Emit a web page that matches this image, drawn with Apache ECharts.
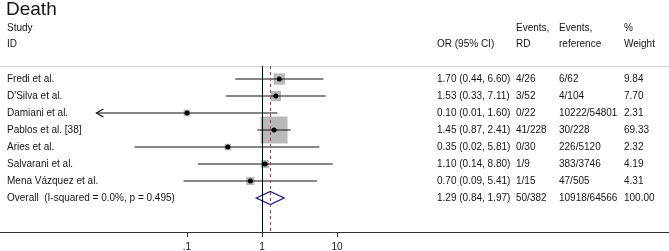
<!DOCTYPE html>
<html>
<head>
<meta charset="utf-8">
<script src="https://cdn.jsdelivr.net/npm/echarts@6/dist/echarts.min.js"></script>
<style>
  html, body { margin: 0; padding: 0; background: #fff; }
  #main { width: 669px; height: 251px; }
</style>
</head>
<body>
<div id="main"></div>
<script>
// study rows, top to bottom
const studies = ['Fredi et al.', "D'Silva et al.", 'Damiani et al.', 'Pablos et al. [38]', 'Aries et al.', 'Salvarani et al.', 'Mena Vázquez et al.']
const orVals = [1.70, 1.53, 0.10, 1.45, 0.35, 1.10, 0.70]
const ciLow = [0.44, 0.33, 0.0062, 0.87, 0.02, 0.14, 0.09]   // Damiani runs off the left, prints as 0.01
const ciHigh = [6.60, 7.11, 1.60, 2.41, 5.81, 8.80, 5.41]
const eventsRD = ['4/26', '3/52', '0/22', '41/228', '0/30', '1/9', '1/15']
const eventsRef = ['6/62', '4/104', '10222/54801', '30/228', '226/5120', '383/3746', '47/505']
const weights = [9.84, 7.70, 2.31, 69.33, 2.32, 4.19, 4.31]

// pooled estimate
const overallLabel = 'Overall  (I-squared = 0.0%, p = 0.495)'
const overallOR = 1.29
const overallLow = 0.84
const overallHigh = 1.97
const overallRD = '50/382'
const overallRef = '10918/64566'
const overallWeight = 100.00

// axis
const tickValues = [0.1, 1, 10]
const tickLabels = ['.1', '1', '10']

// header
const headTop = ['Study', '', 'Events,', 'Events,', '%']
const headBottom = ['ID', 'OR (95% CI)', 'RD', 'reference', 'Weight']

const FAMILY = '"Liberation Sans", Arial, sans-serif'
const FONT = '10px ' + FAMILY
const INK = '#151515'
const COLS = [7, 437, 516, 559, 624]   // left edge of each text column
const ARROW_BELOW = 0.01               // CIs past this get an arrow

const lg = v => Math.log10(v)
const ciText = (o, l, h) => `${o.toFixed(2)} (${l.toFixed(2)}, ${h.toFixed(2)})`

const chart = echarts.init(document.getElementById('main'), null, { renderer: 'canvas' })

// forest marks: [row, log or, log lo, log hi, weight]
const forestData = studies.map((s, i) => [i, lg(orVals[i]), lg(ciLow[i]), lg(ciHigh[i]), weights[i]])

// table rows: label + columns
const tableRows = studies.map((s, i) => [s, ciText(orVals[i], ciLow[i], ciHigh[i]), eventsRD[i], eventsRef[i], weights[i].toFixed(2)])
tableRows.push([overallLabel, ciText(overallOR, overallLow, overallHigh), overallRD, overallRef, overallWeight.toFixed(2)])

function renderStudy (params, api) {
  const row = api.value(0)
  const y = api.coord([0, row])[1]
  const xo = api.coord([api.value(1), row])[0]
  const xl = api.coord([api.value(2), row])[0]
  const xh = api.coord([api.value(3), row])[0]
  const side = 2 + 3 * Math.sqrt(api.value(4))
  const kids = [
    { type: 'rect', shape: { x: xo - side / 2, y: y - side / 2, width: side, height: side }, style: { fill: '#b9b9b9' } },
    { type: 'line', shape: { x1: xl, y1: y, x2: xh, y2: y }, style: { stroke: '#111', lineWidth: 1.2 } },
    { type: 'circle', shape: { cx: xo, cy: y, r: 2.5 }, style: { fill: '#000' } }
  ]
  if (Math.pow(10, api.value(2)) < ARROW_BELOW) {
    kids.push({ type: 'polyline', shape: { points: [[xl + 7, y - 4], [xl, y], [xl + 7, y + 4]] }, style: { stroke: '#111', lineWidth: 1.2, fill: null } })
  }
  return { type: 'group', children: kids }
}

function renderDiamond (params, api) {
  const row = api.value(0)
  const c = api.coord([api.value(1), row])
  const l = api.coord([api.value(2), row])[0]
  const h = api.coord([api.value(3), row])[0]
  const hh = 6.5
  return {
    type: 'polygon',
    shape: { points: [[l, c[1]], [c[0], c[1] - hh], [h, c[1]], [c[0], c[1] + hh]] },
    style: { stroke: '#1c1c8a', lineWidth: 1.3, fill: 'none' }
  }
}

function renderTable (params, api) {
  const row = api.value(1)
  const y = api.coord([0, row])[1]
  const cells = tableRows[params.dataIndex]
  return {
    type: 'group',
    children: cells.map((t, k) => ({
      type: 'text',
      style: { x: COLS[k], y: y, text: t, font: FONT, fill: INK, align: 'left', verticalAlign: 'middle' }
    }))
  }
}

const headerGraphics = [
  { type: 'text', x: 6, y: 10, style: { text: 'Death', font: '19px ' + FAMILY, fill: INK, verticalAlign: 'middle' } }
]
COLS.forEach((x, k) => {
  if (headTop[k]) headerGraphics.push({ type: 'text', x: x, y: 28, style: { text: headTop[k], font: FONT, fill: INK, verticalAlign: 'middle' } })
  headerGraphics.push({ type: 'text', x: x, y: 44, style: { text: headBottom[k], font: FONT, fill: INK, verticalAlign: 'middle' } })
})

const option = {
  animation: false,
  backgroundColor: '#fff',
  grid: { left: 0, right: 0, top: 66, bottom: 19, outerBoundsMode: 'none' },
  xAxis: [
    {
      type: 'value',
      min: -3.493,
      max: 5.427,
      position: 'bottom',
      axisLine: { onZero: false, lineStyle: { color: '#333', width: 1 } },
      axisTick: { customValues: tickValues.map(lg), length: 5, lineStyle: { color: '#333' } },
      axisLabel: {
        customValues: tickValues.map(lg),
        formatter: v => tickLabels[tickValues.findIndex(t => Math.abs(lg(t) - v) < 1e-6)],
        fontSize: 10,
        fontFamily: FAMILY,
        color: INK,
        margin: 10
      },
      splitLine: { show: false }
    },
    {
      type: 'value',
      min: -3.493,
      max: 5.427,
      position: 'top',
      axisLine: { onZero: false, lineStyle: { color: '#d0d0d0', width: 1 } },
      axisTick: { show: false },
      axisLabel: { show: false },
      splitLine: { show: false }
    }
  ],
  yAxis: { type: 'value', inverse: true, min: -0.765, max: 9.0, show: false },
  graphic: headerGraphics,
  series: [
    {
      // reference lines: no effect (1) and pooled estimate
      type: 'scatter',
      data: [],
      z: 1,
      markLine: {
        silent: true,
        symbol: 'none',
        label: { show: false },
        animation: false,
        data: [
          { xAxis: 0, lineStyle: { color: '#000', type: 'solid', width: 1 } },
          { xAxis: lg(overallOR), lineStyle: { color: '#c8303a', type: [3, 3], width: 1 } }
        ]
      }
    },
    {
      type: 'custom',
      z: 3,
      renderItem: renderStudy,
      encode: { x: [1, 2, 3], y: 0 },
      data: forestData
    },
    {
      type: 'custom',
      z: 3,
      renderItem: renderDiamond,
      encode: { x: [1, 2, 3], y: 0 },
      data: [[studies.length, lg(overallOR), lg(overallLow), lg(overallHigh)]]
    },
    {
      type: 'custom',
      z: 3,
      renderItem: renderTable,
      encode: { x: 0, y: 1 },
      data: tableRows.map((r, i) => [0, i])
    }
  ]
}

chart.setOption(option)
</script>
</body>
</html>
